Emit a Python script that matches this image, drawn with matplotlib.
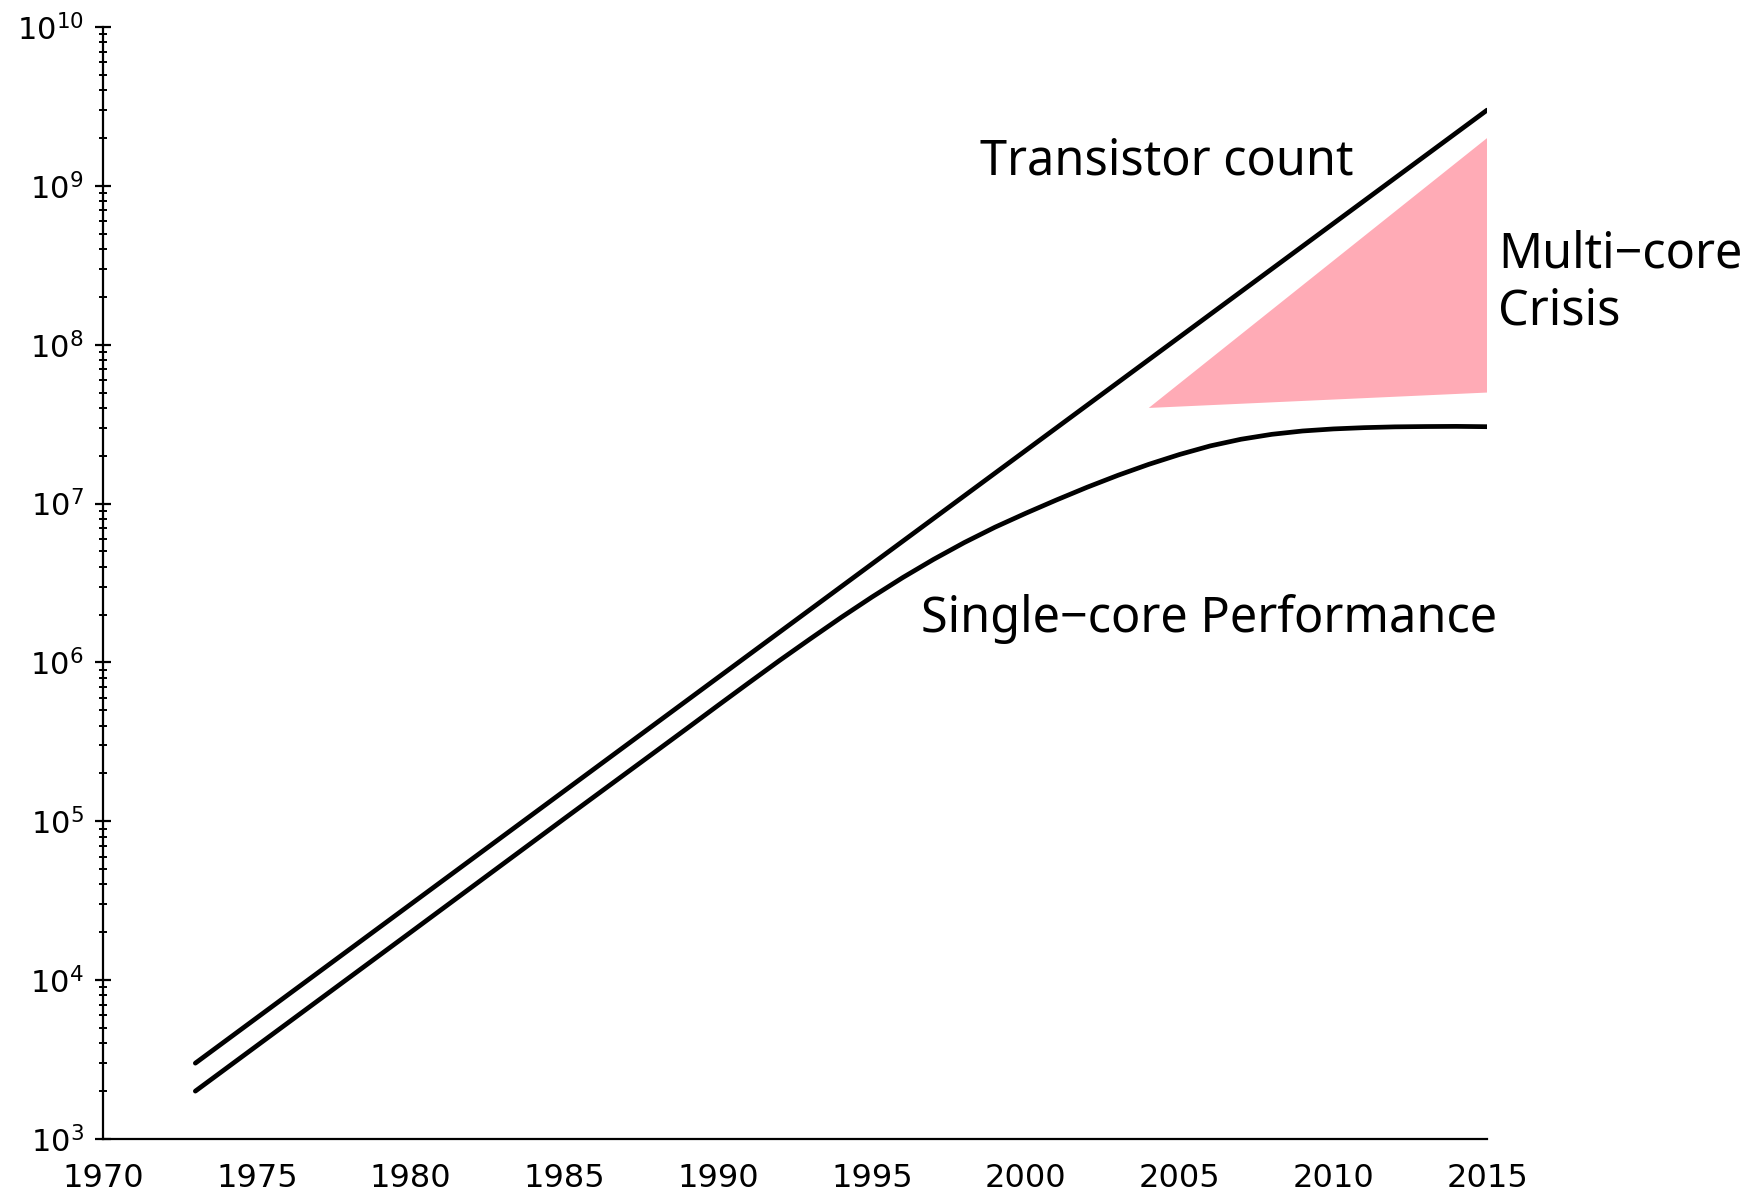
import numpy as np
import matplotlib
matplotlib.use("Agg")
import matplotlib.pyplot as plt

# data
trans_years = [1973, 2015]
trans_count = [3e3, 3e9]

single_years = [1973, 1980, 1985, 1988, 1989, 1990, 1991, 1992, 1993, 1994,
                1995, 1996, 1997, 1998, 1999, 2000, 2001, 2002, 2003, 2004,
                2005, 2006, 2007, 2008, 2009, 2010, 2011, 2012, 2013, 2014,
                2015]
single_perf = [2.0e3, 2.0e4, 1.04e5, 2.78e5, 3.86e5, 5.37e5, 7.45e5, 1.03e6,
               1.41e6, 1.92e6, 2.58e6, 3.42e6, 4.45e6, 5.68e6, 7.10e6, 8.69e6,
               1.054e7, 1.268e7, 1.507e7, 1.766e7, 2.037e7, 2.307e7, 2.541e7,
               2.729e7, 2.864e7, 2.951e7, 3.006e7, 3.041e7, 3.055e7, 3.062e7,
               3.048e7]

crisis_years = [2004, 2015, 2015]
crisis_vals = [4e7, 2e9, 5e7]

fig = plt.figure(figsize=(17.53, 11.97), dpi=100)
ax = fig.add_axes([0.0588, 0.0485, 0.7895, 0.9289])

ax.fill(crisis_years, crisis_vals, color='#ffabb6', lw=0)
ax.plot(trans_years, trans_count, color='black', lw=3.4, solid_capstyle='round')
ax.plot(single_years, single_perf, color='black', lw=3.4,
        solid_capstyle='round', solid_joinstyle='round')

ax.set_yscale('log')
ax.set_xlim(1970, 2015)
ax.set_ylim(1e3, 1e10)
ax.set_xticks(range(1970, 2016, 5))

for s in ['top', 'right']:
    ax.spines[s].set_visible(False)
for s in ['left', 'bottom']:
    ax.spines[s].set_linewidth(1.6)

ax.tick_params(axis='x', length=0, pad=17, labelsize=23)
ax.tick_params(axis='y', which='major', direction='inout', length=12, width=1.6,
               pad=8, labelsize=22)
ax.tick_params(axis='y', which='minor', direction='inout', length=6, width=1.4)

fnt = ['Noto Sans', 'DejaVu Sans']
ax.text(1998.5, 1.42e9, 'Transistor count', fontsize=35, family=fnt,
        va='center', ha='left')
ax.text(1996.6, 1.88e6, 'Single\u2212core Performance', fontsize=35, family=fnt,
        va='center', ha='left')
ax.text(2015.35, 2.45e8, 'Multi\u2212core\nCrisis', fontsize=35, family=fnt,
        va='center', ha='left', linespacing=1.2, clip_on=False)

fig.savefig('out.png', dpi=100)
